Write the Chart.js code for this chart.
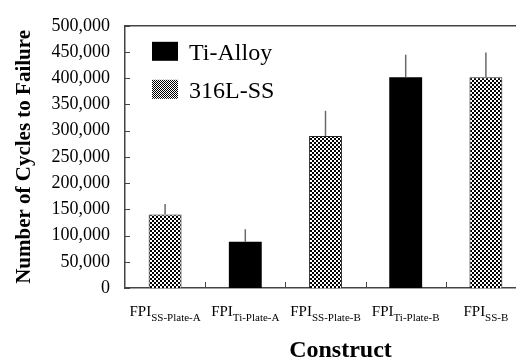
<!DOCTYPE html>
<html>
<head>
<meta charset="utf-8">
<script src="https://cdn.jsdelivr.net/npm/chart.js@4/dist/chart.umd.min.js"></script>
<style>
  html, body { margin: 0; padding: 0; background: #fff; overflow: hidden; }
  #wrap { width: 516px; height: 359px; overflow: hidden; }
</style>
</head>
<body>
<div id="wrap"><canvas id="myChart" width="530" height="359"></canvas></div>
<script>
// categories and sub-labels (FPI + subscript)
const categories = ['FPI SS-Plate-A', 'FPI Ti-Plate-A', 'FPI SS-Plate-B', 'FPI Ti-Plate-B', 'FPI SS-B'];
const labelMain = ['FPI', 'FPI', 'FPI', 'FPI', 'FPI'];
const labelSub = ['SS-Plate-A', 'Ti-Plate-A', 'SS-Plate-B', 'Ti-Plate-B', 'SS-B'];

// cycles to failure
const tiValues = [null, 88000, null, 402000, null];
const ssValues = [140000, null, 290000, null, 402000];
// upper error bars
const tiErrors = [null, 24000, null, 43000, null];
const ssErrors = [20000, null, 48000, null, 47000];

const yTicks = [0, 50000, 100000, 150000, 200000, 250000, 300000, 350000, 400000, 450000, 500000];

const serif = "'Liberation Serif', 'Times New Roman', serif";

function checker(cell) {
    const c = document.createElement('canvas');
    c.width = cell * 2; c.height = cell * 2;
    const g = c.getContext('2d');
    g.fillStyle = '#fff';
    g.fillRect(0, 0, c.width, c.height);
    g.fillStyle = '#000';
    g.fillRect(0, 0, cell, cell);
    g.fillRect(cell, cell, cell, cell);
    return g.createPattern(c, 'repeat');
}

const ctx = document.getElementById('myChart').getContext('2d');
const ssPattern = checker(2);
const legendPattern = checker(1);

// error bars (upper only), inward ticks, top frame, x labels, legend
const extras = {
    id: 'extras',
    afterDatasetsDraw(chart) {
        const c = chart.ctx;
        const x = chart.scales.x, y = chart.scales.y;
        c.save();
        c.strokeStyle = '#6a6a6a';
        c.lineWidth = 1.5;
        chart.data.datasets.forEach(ds => {
            ds.data.forEach((v, i) => {
                if (v == null) return;
                const e = ds.errors[i];
                const px = x.getPixelForValue(i);
                c.beginPath();
                c.moveTo(px, y.getPixelForValue(v));
                c.lineTo(px, y.getPixelForValue(v + e));
                c.stroke();
            });
        });
        c.restore();
    },
    afterDraw(chart) {
        const c = chart.ctx;
        const x = chart.scales.x, y = chart.scales.y;
        const area = chart.chartArea;
        c.save();
        c.strokeStyle = '#444';
        c.lineWidth = 1.5;
        // top frame line
        c.beginPath();
        c.moveTo(area.left, area.top);
        c.lineTo(area.right, area.top);
        c.stroke();
        // y ticks pointing in
        c.lineWidth = 1;
        yTicks.forEach(t => {
            const py = Math.round(y.getPixelForValue(t)) + 0.5;
            c.beginPath();
            c.moveTo(area.left, py);
            c.lineTo(area.left + 5, py);
            c.stroke();
        });
        // x ticks between categories
        const n = categories.length;
        for (let i = 1; i < n; i++) {
            const px = Math.round(area.left + i * (area.right - area.left) / n) + 0.5;
            c.beginPath();
            c.moveTo(px, area.bottom);
            c.lineTo(px, area.bottom - 6);
            c.stroke();
        }
        // x labels with subscripts
        c.fillStyle = '#000';
        c.textBaseline = 'alphabetic';
        c.textAlign = 'left';
        const mainFont = '15px ' + serif;
        const subFont = '11px ' + serif;
        labelMain.forEach((m, i) => {
            c.font = mainFont;
            const w1 = c.measureText(m).width;
            c.font = subFont;
            const w2 = c.measureText(labelSub[i]).width;
            const x0 = x.getPixelForValue(i) - (w1 + w2) / 2;
            c.font = mainFont;
            c.fillText(m, x0, 316);
            c.font = subFont;
            c.fillText(labelSub[i], x0 + w1, 321);
        });
        // axis title
        c.font = 'bold 24px ' + serif;
        c.textAlign = 'center';
        c.fillText('Construct', (area.left + area.right) / 2 + 15, 357);
        // legend
        c.textAlign = 'left';
        c.font = '24px ' + serif;
        chart.data.datasets.forEach((ds, i) => {
            const lx = area.left + 27, ly = area.top + 16 + i * 38;
            c.fillStyle = i === 0 ? '#000' : legendPattern;
            c.fillRect(lx, ly, 26, 19);
            c.fillStyle = '#000';
            c.fillText(ds.label, lx + 37, ly + 18);
        });
        c.restore();
    }
};

const myChart = new Chart(ctx, {
    type: 'bar',
    data: {
        labels: categories,
        datasets: [{
            label: 'Ti-Alloy',
            data: tiValues,
            errors: tiErrors,
            backgroundColor: '#000',
            borderColor: '#000',
            borderWidth: 0
        }, {
            label: '316L-SS',
            data: ssValues,
            errors: ssErrors,
            backgroundColor: ssPattern,
            borderColor: '#222',
            borderWidth: 1
        }]
    },
    plugins: [extras],
    options: {
        responsive: false,
        animation: false,
        devicePixelRatio: 1,
        layout: { padding: { top: 16, right: 4, left: 0, bottom: 0 } },
        datasets: {
            bar: { grouped: false, categoryPercentage: 1, barPercentage: 0.41 }
        },
        plugins: {
            legend: { display: false },
            tooltip: { enabled: false }
        },
        scales: {
            x: {
                grid: { display: false, drawTicks: false },
                border: { display: true, color: '#444', width: 1.5 },
                ticks: { display: false },
                afterFit(s) { s.height = 71; }
            },
            y: {
                min: 0,
                max: 500000,
                grid: { display: false, drawTicks: false },
                border: { display: true, color: '#444', width: 1.5 },
                afterFit(s) { s.width = 125; },
                ticks: {
                    stepSize: 50000,
                    padding: 15,
                    color: '#000',
                    font: { family: serif, size: 18 },
                    callback: v => v.toLocaleString('en-US')
                },
                title: {
                    display: true,
                    text: 'Number of Cycles to Failure',
                    color: '#000',
                    font: { family: serif, size: 21, weight: 'bold', lineHeight: 1 },
                    padding: { top: 14, bottom: 0 }
                }
            }
        }
    }
});
</script>
</body>
</html>
